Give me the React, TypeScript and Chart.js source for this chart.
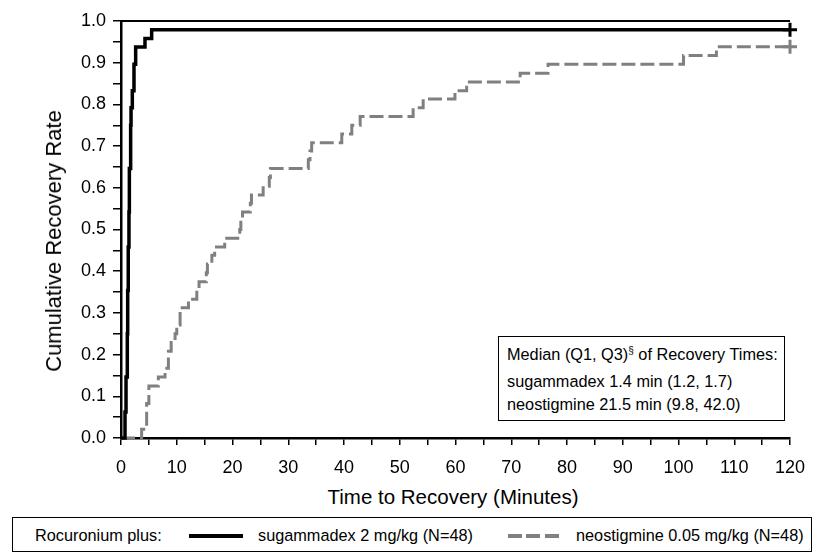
import { useEffect, useRef } from 'react';
import { Chart, registerables } from 'chart.js';

Chart.register(...registerables);

// Kaplan-Meier style recovery curves (minutes -> cumulative rate)
const sugTimes = [0, 0.72, 0.9, 1.13, 1.2, 1.3, 1.43, 1.5, 1.73, 1.8, 2.03, 2.33, 2.63, 4.3, 5.5, 120];
const sugRates = [0, 0.0625, 0.146, 0.25, 0.354, 0.458, 0.542, 0.646, 0.75, 0.792, 0.833, 0.896, 0.9375, 0.958, 0.979, 0.979];

const neoTimes = [0, 3.7, 4.6, 5.0, 6.7, 7.9, 8.5, 9.0, 9.7, 10.0, 10.6, 12.1, 13.6, 14.0, 15.3, 15.5, 16.3, 16.8, 18.6, 21.3,
  21.5, 21.8, 23.2, 23.4, 25.5, 26.6, 26.8, 33.6, 33.9, 34.2, 39.6, 41.4, 42.9, 52.4, 54.2, 59.9, 62.0, 71.6, 76.6, 100.9, 106.8, 120];
const neoRates = [0, 0.021, 0.083, 0.125, 0.146, 0.167, 0.208, 0.229, 0.25, 0.271, 0.3125, 0.333, 0.354, 0.375, 0.396, 0.417, 0.438, 0.458, 0.479, 0.5,
  0.521, 0.542, 0.563, 0.583, 0.604, 0.625, 0.646, 0.667, 0.688, 0.708, 0.729, 0.75, 0.771, 0.792, 0.813, 0.833, 0.854, 0.875, 0.896, 0.917, 0.938, 0.938];

const xTickLabels = ['0', '10', '20', '30', '40', '50', '60', '70', '80', '90', '100', '110', '120'];
const yTickLabels = ['0.0', '0.1', '0.2', '0.3', '0.4', '0.5', '0.6', '0.7', '0.8', '0.9', '1.0'];

const seriesNames = ['sugammadex 2 mg/kg (N=48)', 'neostigmine 0.05 mg/kg (N=48)'];
const medianLines = [
  'sugammadex 1.4 min (1.2, 1.7)',
  'neostigmine 21.5 min (9.8, 42.0)',
];

const FONT = '"Liberation Sans", Arial, sans-serif';

const topFrame = {
  id: 'topFrame',
  afterDraw(chart: Chart) {
    const { ctx, chartArea } = chart;
    ctx.save();
    ctx.strokeStyle = '#000';
    ctx.lineWidth = 2;
    ctx.beginPath();
    ctx.moveTo(chartArea.left - 1, chartArea.top);
    ctx.lineTo(chartArea.right, chartArea.top);
    ctx.stroke();
    ctx.restore();
  },
};

const lastPoint = (r: number) => (c: any) => (c.dataIndex === c.dataset.data.length - 1 ? r : 0);

export default function App() {
  const chartRef = useRef<HTMLCanvasElement>(null);
  const chartInstance = useRef<Chart | null>(null);

  useEffect(() => {
    if (!chartRef.current) return;
    if (chartInstance.current) chartInstance.current.destroy();

    chartInstance.current = new Chart(chartRef.current, {
      type: 'line',
      data: {
        datasets: [
          {
            label: seriesNames[0],
            data: sugTimes.map((t, i) => ({ x: t, y: sugRates[i] })),
            borderColor: '#000',
            borderWidth: 3.5,
            stepped: 'before',
            pointStyle: 'cross',
            pointRadius: lastPoint(7),
            pointBorderWidth: 3,
            pointBorderColor: '#000',
            clip: false,
          },
          {
            label: seriesNames[1],
            data: neoTimes.map((t, i) => ({ x: t, y: neoRates[i] })),
            borderColor: '#808080',
            borderWidth: 3,
            borderDash: [14, 5],
            stepped: 'before',
            pointStyle: 'cross',
            pointRadius: lastPoint(7),
            pointBorderWidth: 3,
            pointBorderColor: '#808080',
            clip: false,
          },
        ],
      },
      options: {
        responsive: true,
        maintainAspectRatio: false,
        animation: false,
        layout: { padding: { top: 21, right: 30, bottom: 0, left: 0 } },
        scales: {
          x: {
            type: 'linear',
            min: 0,
            max: 120,
            afterFit: (s: any) => { s.height = 42; },
            border: { display: true, color: '#000', width: 2.5 },
            grid: { drawOnChartArea: false, drawTicks: true, tickLength: 7, color: '#000', lineWidth: 1.5 },
            ticks: {
              stepSize: 5,
              autoSkip: false,
              maxRotation: 0,
              padding: 12,
              color: '#000',
              font: { family: FONT, size: 18 },
              callback: (_v: any, i: number) => (i % 2 === 0 ? xTickLabels[i / 2] : ''),
            },
          },
          y: {
            min: 0,
            max: 1,
            afterFit: (s: any) => { s.width = 121; },
            border: { display: true, color: '#000', width: 2.5 },
            grid: { drawOnChartArea: false, drawTicks: true, tickLength: 8, color: '#000', lineWidth: 1.5 },
            ticks: {
              stepSize: 0.05,
              autoSkip: false,
              padding: 7,
              color: '#000',
              font: { family: FONT, size: 18 },
              callback: (_v: any, i: number) => (i % 2 === 0 ? yTickLabels[i / 2] : ''),
            },
          },
        },
        plugins: {
          legend: { display: false },
          tooltip: { enabled: false },
        },
      },
      plugins: [topFrame],
    });

    return () => { chartInstance.current?.destroy(); };
  }, []);

  const text = { fontFamily: FONT, color: '#000', whiteSpace: 'nowrap' as const, position: 'absolute' as const };

  return (
    <div style={{ position: 'absolute', left: 0, top: 0, width: 820, height: 558, background: '#fff', overflow: 'hidden' }}>
      <div style={{ position: 'absolute', left: 0, top: 0, width: 820, height: 480 }}>
        <canvas ref={chartRef} />
      </div>

      <div style={{ ...text, left: 53.5, top: 241, fontSize: 22, lineHeight: 1, transform: 'translate(-50%, -50%) rotate(-90deg)' }}>
        Cumulative Recovery Rate
      </div>
      <div style={{ ...text, left: 453, top: 496.5, fontSize: 20.5, lineHeight: 1, transform: 'translate(-50%, -50%)' }}>
        Time to Recovery (Minutes)
      </div>

      {/* median box */}
      <div style={{ position: 'absolute', left: 498, top: 336, width: 287, height: 85, border: '1.5px solid #000', boxSizing: 'border-box', background: '#fff' }}>
        <div style={{ ...text, left: 8, top: 9, fontSize: 16.3, lineHeight: 1 }}>
          Median (Q1, Q3)<sup style={{ fontSize: 10, verticalAlign: 6 }}>§</sup> of Recovery Times:
        </div>
        <div style={{ ...text, left: 8, top: 36, fontSize: 16.3, lineHeight: 1 }}>{medianLines[0]}</div>
        <div style={{ ...text, left: 8, top: 59, fontSize: 16.3, lineHeight: 1 }}>{medianLines[1]}</div>
      </div>

      {/* legend */}
      <div style={{ position: 'absolute', left: 12, top: 517, width: 800, height: 35, border: '1.5px solid #000', boxSizing: 'border-box' }}>
        <div style={{ ...text, left: 22, top: 9, fontSize: 16.3, lineHeight: 1 }}>Rocuronium plus:</div>
        <div style={{ position: 'absolute', left: 176, top: 16, width: 54, height: 4, background: '#000' }} />
        <div style={{ ...text, left: 245, top: 9, fontSize: 16.3, lineHeight: 1 }}>{seriesNames[0]}</div>
        <div style={{ position: 'absolute', left: 495, top: 16, width: 51, height: 3.5,
          background: 'repeating-linear-gradient(to right, #808080 0 14px, transparent 14px 18.5px)' }} />
        <div style={{ ...text, left: 563, top: 9, fontSize: 16.3, lineHeight: 1 }}>{seriesNames[1]}</div>
      </div>
    </div>
  );
}
